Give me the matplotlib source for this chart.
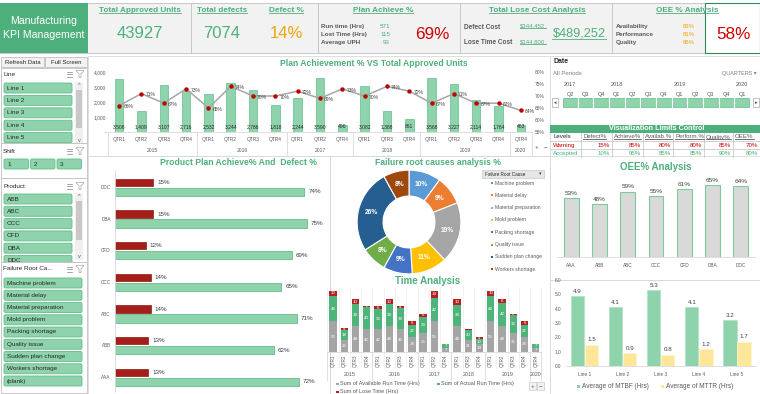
import numpy as np
import matplotlib.pyplot as plt
from matplotlib.patches import Rectangle, FancyBboxPatch, Polygon

plt.rcParams['font.family'] = ['Liberation Sans', 'DejaVu Sans']

# ── data ────────────────────────────────────────────────────────────────
quarter_labels = ['QTR1', 'QTR2', 'QTR3', 'QTR4', 'QTR1', 'QTR2', 'QTR3', 'QTR4',
                  'QTR1', 'QTR2', 'QTR4', 'QTR1', 'QTR3', 'QTR4',
                  'QTR1', 'QTR2', 'QTR3', 'QTR4', 'QTR4']
year_labels = ['2015', '2016', '2017', '2018', '2019', '2020']
year_counts = [4, 4, 3, 3, 4, 1]
approved_units = [3508, 1409, 3107, 2716, 2532, 3244, 2786, 1818, 2244, 3590, 496,
                  3082, 1388, 861, 3568, 3227, 2114, 1764, 463]
plan_achieve_pct = [66, 71, 67, 73, 65, 74, 70, 70, 72, 69, 73, 70, 74, 72, 67, 71, 67, 67, 64]

products = ['AAA', 'ABB', 'ABC', 'CCC', 'CFD', 'DBA', 'DDC']
product_defect_pct = [13, 13, 14, 14, 12, 15, 15]
product_achieve_pct = [72, 62, 71, 65, 69, 75, 74]
product_oee_pct = [53, 48, 59, 55, 61, 65, 64]

root_causes = ['Machine problem', 'Material delay', 'Material preparation', 'Mold problem',
               'Packing shortage', 'Quality issue', 'Sudden plan change', 'Workers shortage']
root_cause_pct = [10, 9, 19, 11, 9, 8, 26, 8]
root_cause_colors = ['#5B9BD5', '#ED7D31', '#A5A5A5', '#FFC000',
                     '#4472C4', '#70AD47', '#255E91', '#9E480E']

available_hrs = [56, 22, 48, 42, 42, 48, 42, 28, 35, 56, 7, 48, 21, 14, 56, 48, 35, 28, 7]
actual_hrs = [46, 18, 39, 40, 36, 39, 38, 22, 29, 42, 7, 38, 20, 10, 46, 42, 33, 22, 7]
lose_hrs = [10, 4, 10, 2, 6, 10, 4, 6, 6, 14, 0, 10, 1, 4, 10, 6, 2, 6, 0]

lines = ['Line 1', 'Line 2', 'Line 3', 'Line 4', 'Line 5']
mtbf_hrs = [4.9, 4.1, 5.3, 4.1, 3.2]
mttr_hrs = [1.5, 0.9, 0.8, 1.2, 1.7]

shifts = ['1', '2', '3']
slicer_products = ['ABB', 'ABC', 'CCC', 'CFD', 'DBA', 'DDC']
slicer_causes = root_causes + ['(blank)']

date_years = ['2017', '2018', '2019', '2020']
date_year_pos = [0, 3, 7, 11]
date_quarters = ['Q2', 'Q3', 'Q4', 'Q1', 'Q2', 'Q3', 'Q4', 'Q1', 'Q2', 'Q3', 'Q4', 'Q1']

limit_cols = ['Defect%', 'Achieve%', 'Availab.%', 'Perform.%', 'Quality%', 'OEE%']
warning_limits = ['15%', '85%', '80%', '80%', '85%', '70%']
accepted_limits = ['10%', '95%', '85%', '85%', '90%', '80%']

total_approved = 43927
total_defects = 7074
defect_pct = 14
run_time, lost_time, avg_uph = 571, 115, 93
plan_achieve = 69
defect_cost, lose_time_cost, total_lose_cost = 344452, 144800, 489252
availability, performance, quality = 83, 81, 86
oee_pct = 58

# ── colours ─────────────────────────────────────────────────────────────
GREEN = '#4DAF7C'
BAR_GREEN = '#8ED3AC'
EDGE_GREEN = '#62BE8C'
DARK_GREEN = '#4DB57A'
RED = '#D00000'
DARK_RED = '#A61E1A'
ORANGE = '#F0A30A'
GREY_TXT = '#595959'
FRAME = '#D9D9D9'

W, H = 760, 394
fig = plt.figure(figsize=(W / 100, H / 100), dpi=100)
fig.patch.set_facecolor('white')
base = fig.add_axes([0, 0, 1, 1])
base.set_xlim(0, W); base.set_ylim(H, 0); base.axis('off')

underlined = []


def px_axes(x, y, w, h):
    ax = fig.add_axes([x / W, 1 - (y + h) / H, w / W, h / H])
    ax.patch.set_alpha(0)
    return ax


def rect(x, y, w, h, fc='none', ec='none', lw=0.6, z=1):
    p = Rectangle((x, y), w, h, fc=fc, ec=ec, lw=lw, zorder=z)
    base.add_patch(p)
    return p


def label(x, y, s, size=4.6, color='#333333', ha='center', weight='normal', underline=False, **kw):
    t = base.text(x, y, s, fontsize=size, color=color, ha=ha, va='center', fontweight=weight, zorder=5, **kw)
    if underline:
        underlined.append(t)
    return t


def hline(x0, x1, y, color=FRAME, lw=0.6):
    base.plot([x0, x1], [y, y], color=color, lw=lw, zorder=2)


def vline(x, y0, y1, color=FRAME, lw=0.6):
    base.plot([x, x], [y0, y1], color=color, lw=lw, zorder=2)


def slicer_icons(xr, y):
    # multi-select icon + filter funnel
    for k in range(3):
        base.plot([xr - 19, xr - 14], [y - 2.5 + 2.5 * k, y - 2.5 + 2.5 * k], color='#7F7F7F', lw=0.5, zorder=6)
    base.add_patch(Polygon([[xr - 10, y - 3.5], [xr - 2, y - 3.5], [xr - 5, y], [xr - 5, y + 3.5],
                            [xr - 7, y + 3.5], [xr - 7, y]], closed=True, fc='none', ec='#A6A6A6', lw=0.5, zorder=6))


def button(x, y, w, h, s, clip=None):
    b = FancyBboxPatch((x, y), w, h, boxstyle='round,pad=0,rounding_size=1.5',
                       fc=BAR_GREEN, ec=EDGE_GREEN, lw=0.6, zorder=3)
    base.add_patch(b)
    t = base.text(x + 3, y + h / 2, s, fontsize=4.6, color='#262626', va='center', ha='left', zorder=4)
    if clip is not None:
        b.set_clip_path(clip); t.set_clip_path(clip)


def scrollbar(x, y0, y1, t0, t1):
    rect(x, y0, 8, y1 - y0, fc='#F0F0F0', z=3)
    rect(x + 1, t0, 6, t1 - t0, fc='#C8C8C8', z=4)
    label(x + 4, y0 + 3, '^', 4, '#595959')
    label(x + 4, y1 - 3, 'v', 4, '#595959')


# ── banner ──────────────────────────────────────────────────────────────
rect(0, 3, W, 50, fc='#F2F2F2', ec='#BFBFBF', lw=0.6, z=0)
rect(0, 3, 88, 50, fc=GREEN, z=1)
label(44, 21, 'Manufacturing', 7.6, 'white')
label(44, 35, 'KPI Management', 7.6, 'white')
for xs in [191, 318, 460, 612]:
    vline(xs, 3, 53, color='#BFBFBF')
rect(705, 3, 55, 50, fc='white', ec='#2E8B57', lw=0.8, z=2)

label(140, 10, 'Total Approved Units', 5.9, GREEN, weight='bold', underline=True)
label(140, 33, f'{total_approved}', 12, GREEN)
label(222, 10, 'Total defects', 5.9, GREEN, weight='bold', underline=True)
label(222, 33, f'{total_defects}', 12, GREEN)
label(286, 10, 'Defect %', 5.9, GREEN, weight='bold', underline=True)
label(286, 33, f'{defect_pct}%', 12, ORANGE)

label(383, 10, 'Plan Achieve %', 5.9, GREEN, weight='bold', underline=True)
for k, (n, v) in enumerate([('Run time (Hrs)', run_time), ('Lost Time (Hrs)', lost_time),
                            ('Average UPH', avg_uph)]):
    label(321, 26 + 8 * k, n, 4.5, GREY_TXT, ha='left', weight='bold')
    label(390, 26 + 8 * k, f'{v}', 4.5, GREEN, ha='right')
label(432, 34, f'{plan_achieve}%', 12.3, RED)

label(537, 10, 'Total Lose Cost Analysis', 5.9, GREEN, weight='bold', underline=True)
label(464, 27, 'Defect Cost', 4.7, GREY_TXT, ha='left', weight='bold')
label(464, 42, 'Lose Time Cost', 4.7, GREY_TXT, ha='left', weight='bold')
label(533, 26, f'${defect_cost:,}', 4.3, GREEN, underline=True)
label(533, 42, f'${lose_time_cost:,}', 4.3, GREEN, underline=True)
label(579, 33, f'${total_lose_cost:,}', 9.2, GREEN, underline=True)

label(687, 10, 'OEE % Analysis', 5.9, GREEN, weight='bold', underline=True)
for k, (n, v) in enumerate([('Availability', availability), ('Performance', performance),
                            ('Quality', quality)]):
    label(616, 26 + 8 * k, n, 4.5, GREY_TXT, ha='left', weight='bold')
    label(689, 26 + 8 * k, f'{v}%', 4.3, ORANGE)
label(733, 34, f'{oee_pct}%', 12.3, RED)

# ── left slicers ────────────────────────────────────────────────────────
rect(1, 57, 43, 10, fc='#F2F2F2', ec='#BFBFBF', z=2)
rect(45, 57, 42, 10, fc='#F2F2F2', ec='#BFBFBF', z=2)
label(22.5, 62, 'Refresh Data', 4.3, '#262626')
label(66, 62, 'Full Screen', 4.3, '#262626')

box = rect(1, 68, 86, 75, fc='white', ec='#BFBFBF', z=1)
label(3, 74, 'Line', 4.6, '#262626', ha='left')
slicer_icons(86, 74)
for i, s in enumerate(lines):
    button(4, 83 + 12.4 * i, 68, 10, s, clip=box)
scrollbar(75, 82, 143, 90, 128)

box = rect(1, 143, 86, 35, fc='white', ec='#BFBFBF', z=1)
label(3, 151, 'Shift', 4.6, '#262626', ha='left')
slicer_icons(86, 151)
for i, s in enumerate(shifts):
    button(4 + 26.5 * i, 159, 24.5, 10, s)

box = rect(1, 178, 86, 84, fc='white', ec='#BFBFBF', z=1)
label(3, 186, 'Product', 4.6, '#262626', ha='left')
slicer_icons(86, 186)
for i, s in enumerate(slicer_products):
    button(4, 194 + 12.3 * i, 68, 10, s, clip=box)
scrollbar(75, 193, 260, 201, 240)

box = rect(1, 262, 86, 131, fc='white', ec='#BFBFBF', z=1)
label(3, 269, 'Failure Root Ca...', 4.6, '#262626', ha='left')
slicer_icons(86, 269)
for i, s in enumerate(slicer_causes):
    button(4, 278 + 12.25 * i, 78, 10, s)

# ── frames ──────────────────────────────────────────────────────────────
rect(88, 56, 462, 100, ec=FRAME)
rect(88, 156, 242, 238, ec=FRAME)
rect(330, 156, 220, 238, ec=FRAME)
rect(550, 56, 210, 70, ec=FRAME)
rect(550, 156, 210, 124, ec=FRAME)
rect(550, 280, 210, 114, ec=FRAME)

# ── top chart: plan achievement vs approved units ──────────────────────
n = len(approved_units)
x = np.arange(n)
tl, tw = 108, 424
step_top = tw / n
ax1 = px_axes(tl, 72, tw, 60)
ax1.bar(x, approved_units, width=0.38, color=BAR_GREEN, edgecolor=EDGE_GREEN, lw=0.5)
ax1.set_xlim(-0.5, n - 0.5); ax1.set_ylim(0, 4000)
ax1.set_yticks([0, 1000, 2000, 3000, 4000])
ax1.set_yticklabels(['-', '1,000', '2,000', '3,000', '4,000'])
ax1.set_xticks([])
ax1.tick_params(axis='y', length=0, labelsize=3.5, labelcolor=GREY_TXT, pad=1.5)
for s in ax1.spines.values():
    s.set_visible(False)
for i, v in enumerate(approved_units):
    ax1.text(i, 360, f'{v:,}', ha='center', va='center', fontsize=3.6, color='#262626')
ax2 = ax1.twinx()
ax2.patch.set_alpha(0)
ax2.plot(x, plan_achieve_pct, color='#A6A6A6', lw=1.1, marker='o', ms=2.2, mfc='#C00000', mec='#C00000')
ax2.set_ylim(55, 80)
ax2.set_yticks([55, 60, 65, 70, 75, 80])
ax2.set_yticklabels([f'{t}%' for t in [55, 60, 65, 70, 75, 80]])
ax2.tick_params(axis='y', length=0, labelsize=3.5, labelcolor=GREY_TXT, pad=2)
for s in ax2.spines.values():
    s.set_visible(False)
for i, v in enumerate(plan_achieve_pct):
    ax2.annotate(f'{v}%', (i, v), xytext=(3, -1), textcoords='offset points',
                 fontsize=3.6, color='#404040', va='center', ha='left')
label(374, 63, 'Plan Achievement % VS Total Approved Units', 6.2, GREEN, weight='bold')

hline(tl, tl + tw, 132)
start = 0
for yl, c in zip(year_labels, year_counts):
    vline(tl + start * step_top, 132, 155)
    label(tl + (start + c / 2) * step_top, 150, yl, 3.6, GREY_TXT)
    start += c
vline(tl + tw, 132, 155)
for i, q in enumerate(quarter_labels):
    label(tl + (i + 0.5) * step_top, 139, q, 3.5, GREY_TXT)
label(537, 147, '+', 4.5, GREY_TXT); label(545, 147, '−', 4.5, GREY_TXT)

# ── date slicer + limits table ─────────────────────────────────────────
label(553, 61, 'Date', 5, '#262626', ha='left', weight='bold')
label(553, 73, 'All Periods', 4.3, '#7F7F7F', ha='left')
label(757, 73, 'QUARTERS ▾', 4, '#7F7F7F', ha='right')
qx = np.linspace(570, 742, len(date_quarters))
for yl, p in zip(date_years, date_year_pos):
    label(qx[p], 84, yl, 4, GREY_TXT)
for q, xq in zip(date_quarters, qx):
    label(xq, 94, q, 4, GREY_TXT)
rect(563, 98, 186, 9, fc=BAR_GREEN, ec=EDGE_GREEN, lw=0.5, z=2)
for xq in (qx[:-1] + qx[1:]) / 2:
    vline(xq, 98, 107, color='white', lw=0.8)
rect(552, 98, 6, 9, fc='white', ec='#A6A6A6', lw=0.5, z=2)
label(555, 102.5, '◂', 3.5, '#404040')
rect(753, 98, 6, 9, fc='white', ec='#A6A6A6', lw=0.5, z=2)
label(756, 102.5, '▸', 3.5, '#404040')

rect(550, 125, 210, 8, fc=GREEN, z=2)
label(657, 129, 'Visualization Limits Control', 5.2, 'white', weight='bold')
col_x = [581, 612, 643, 673, 704, 733, 760]
for xs in col_x[:-1]:
    vline(xs, 133, 157, color='#BFBFBF', lw=0.5)
hline(550, 760, 141, color='#BFBFBF', lw=0.5)
hline(550, 760, 149, color='#BFBFBF', lw=0.5)
label(553, 137, 'Levels', 4.4, '#262626', ha='left')
label(553, 145, 'Warning', 4.4, RED, ha='left')
label(553, 153, 'Accepted', 4.4, '#3CB371', ha='left')
for k in range(6):
    label(col_x[k] + 2, 137, limit_cols[k], 4.4, GREY_TXT, ha='left', underline=True)
    label(col_x[k + 1] - 2, 145, warning_limits[k], 4.4, RED, ha='right')
    label(col_x[k + 1] - 2, 153, accepted_limits[k], 4.4, '#3CB371', ha='right')

# ── product plan achieve % and defect % ────────────────────────────────
ax3 = px_axes(115, 170, 215, 222)
yp = np.arange(len(products))
ax3.barh(yp + 0.15, product_defect_pct, height=0.24, color=DARK_RED, edgecolor='#8B1A16', lw=0.5)
ax3.barh(yp - 0.15, product_achieve_pct, height=0.26, color=BAR_GREEN, edgecolor=EDGE_GREEN, lw=0.6)
for i in range(len(products)):
    ax3.text(product_defect_pct[i] + 1.5, i + 0.15, f'{product_defect_pct[i]}%', va='center',
             fontsize=4.5, color='#404040')
    ax3.text(product_achieve_pct[i] + 1.5, i - 0.15, f'{product_achieve_pct[i]}%', va='center',
             fontsize=4.5, color='#404040')
ax3.set_xlim(0, 84); ax3.set_ylim(-0.47, 6.54)
ax3.set_yticks(yp); ax3.set_yticklabels(products)
ax3.set_xticks([])
ax3.tick_params(axis='y', length=0, labelsize=3.3, labelcolor=GREY_TXT, pad=3)
for s in ['top', 'right', 'bottom']:
    ax3.spines[s].set_visible(False)
ax3.spines['left'].set_color(FRAME); ax3.spines['left'].set_linewidth(0.6)
label(238, 162, 'Product Plan Achieve% And  Defect %', 6.2, GREEN, weight='bold')

# ── failure root causes donut ──────────────────────────────────────────
ax4 = px_axes(354, 167, 110, 110)
ax4.pie(root_cause_pct, colors=root_cause_colors, startangle=90, counterclock=False,
        radius=1, wedgeprops=dict(width=0.5, edgecolor='white', linewidth=0.8))
ang = 90
for v in root_cause_pct:
    mid = np.deg2rad(ang - v * 3.6 / 2)
    ax4.text(0.75 * np.cos(mid), 0.75 * np.sin(mid), f'{v}%', ha='center', va='center',
             fontsize=4.8, color='white', fontweight='bold')
    ang -= v * 3.6
ax4.set_xlim(-1.06, 1.06); ax4.set_ylim(-1.06, 1.06)
ax4.set_aspect('equal'); ax4.axis('off')
label(438, 162, 'Failure root causes analysis %', 6.2, GREEN, weight='bold')
rect(482, 170, 62, 8, fc='#E7E6E6', ec='#BFBFBF', lw=0.4, z=2)
label(485, 174, 'Failure Root Cause', 3.3, '#262626', ha='left')
label(540, 174, '▾', 3.5, '#404040')
for k, (c, col) in enumerate(zip(root_causes, root_cause_colors)):
    yy = 183 + 12.3 * k
    rect(490.5, yy - 1, 2, 2, fc=col, z=3)
    label(495, yy, c, 3.6, GREY_TXT, ha='left')

# ── time analysis ──────────────────────────────────────────────────────
ta_l, ta_w = 327.4, 214
step_ta = ta_w / n
ax5 = px_axes(ta_l, 289, ta_w, 63)
lose_bottom = np.array(available_hrs) + np.array(actual_hrs)
ax5.bar(x, available_hrs, width=0.65, color='#A5A5A5')
ax5.bar(x, actual_hrs, width=0.65, bottom=available_hrs, color=DARK_GREEN)
ax5.bar(x, lose_hrs, width=0.65, bottom=lose_bottom, color='#B22222')
for i in range(n):
    ax5.text(i, available_hrs[i] / 2, f'{available_hrs[i]}', ha='center', va='center', fontsize=3.2, color='white')
    ax5.text(i, available_hrs[i] + actual_hrs[i] / 2, f'{actual_hrs[i]}', ha='center', va='center',
             fontsize=3.2, color='white')
    if lose_hrs[i] > 0:
        ax5.text(i, lose_bottom[i] + max(lose_hrs[i], 4) / 2, f'{lose_hrs[i]}', ha='center', va='center',
                 fontsize=3.2, color='white')
ax5.set_xlim(-0.5, n - 0.5); ax5.set_ylim(0, 115)
ax5.axis('off')
label(428, 281, 'Time Analysis', 7, GREEN, weight='bold')
for i in range(n + 1):
    vline(ta_l + i * step_ta, 287, 368, color='#EDEDED', lw=0.5)
hline(ta_l, ta_l + ta_w, 352)
for i, q in enumerate(quarter_labels):
    label(ta_l + (i + 0.5) * step_ta, 361, q, 3.3, GREY_TXT, rotation=90)
start = 0
for yl, c in zip(year_labels, year_counts):
    vline(ta_l + start * step_ta, 352, 380)
    label(ta_l + (start + c / 2) * step_ta, 375, yl, 3.8, GREY_TXT)
    start += c
vline(ta_l + ta_w, 352, 380)
rect(336, 382.5, 2.5, 2.5, fc='#A5A5A5', z=3)
label(340, 384, 'Sum of Available Run Time (Hrs)', 4, GREY_TXT, ha='left')
rect(437, 382.5, 2.5, 2.5, fc=DARK_GREEN, z=3)
label(441, 384, 'Sum of Actual Run Time (Hrs)', 4, GREY_TXT, ha='left')
rect(336, 390.5, 2.5, 2.5, fc='#B22222', z=3)
label(340, 392, 'Sum of Lose Time (Hrs)', 4, GREY_TXT, ha='left')
rect(529, 382, 7, 8, fc='#F2F2F2', ec='#BFBFBF', lw=0.4, z=3)
label(532.5, 386, '+', 4.5, GREY_TXT)
rect(537, 382, 7, 8, fc='#F2F2F2', ec='#BFBFBF', lw=0.4, z=3)
label(540.5, 386, '−', 4.5, GREY_TXT)

# ── OEE % by product ───────────────────────────────────────────────────
ax6 = px_axes(557, 180, 198, 77)
ax6.bar(np.arange(len(products)), product_oee_pct, width=0.53, color='#D9D9D9', edgecolor='#7CCB9C', lw=0.8)
for i, v in enumerate(product_oee_pct):
    ax6.text(i, v + 2, f'{v}%', ha='center', va='bottom', fontsize=4.6, color='#404040')
ax6.set_xlim(-0.5, len(products) - 0.5); ax6.set_ylim(0, 69.5)
ax6.set_xticks(np.arange(len(products))); ax6.set_xticklabels(products)
ax6.set_yticks([])
ax6.tick_params(axis='x', length=0, labelsize=3.4, labelcolor=GREY_TXT, pad=4)
for s in ['top', 'right', 'left']:
    ax6.spines[s].set_visible(False)
ax6.spines['bottom'].set_color(FRAME); ax6.spines['bottom'].set_linewidth(0.6)
label(656, 167, 'OEE% Analysis', 7, GREEN, weight='bold')

# ── MTBF / MTTR by line ────────────────────────────────────────────────
ax7 = px_axes(565.5, 280, 190.5, 86)
xl = np.arange(len(lines))
ax7.bar(xl - 0.185, mtbf_hrs, width=0.35, color=BAR_GREEN, edgecolor='#B5E3C8', lw=0.6)
ax7.bar(xl + 0.185, mttr_hrs, width=0.35, color='#FFE699', edgecolor='#FFF2CC', lw=0.6)
for i in range(len(lines)):
    ax7.text(i - 0.185, mtbf_hrs[i] + 0.15, f'{mtbf_hrs[i]:.1f}', ha='center', va='bottom', fontsize=4.5, color='#404040')
    ax7.text(i + 0.185, mttr_hrs[i] + 0.15, f'{mttr_hrs[i]:.1f}', ha='center', va='bottom', fontsize=4.5, color='#404040')
ax7.set_xlim(-0.5, len(lines) - 0.5); ax7.set_ylim(0, 6)
ax7.set_xticks(xl); ax7.set_xticklabels(lines)
ax7.set_yticks(np.arange(0, 7)); ax7.set_yticklabels([f'{t:.1f}' for t in range(7)])
ax7.tick_params(length=0, labelsize=3.4, labelcolor=GREY_TXT)
ax7.tick_params(axis='x', pad=4)
ax7.tick_params(axis='y', pad=3)
for s in ['top', 'right', 'left']:
    ax7.spines[s].set_visible(False)
ax7.spines['bottom'].set_color(FRAME); ax7.spines['bottom'].set_linewidth(0.6)
rect(577, 384.5, 3, 3, fc=BAR_GREEN, z=3)
label(582, 386, 'Average of MTBF (Hrs)', 4.7, GREY_TXT, ha='left')
rect(661, 384.5, 3, 3, fc='#FFE699', z=3)
label(666, 386, 'Average of MTTR (Hrs)', 4.7, GREY_TXT, ha='left')

# ── underlines ─────────────────────────────────────────────────────────
fig.canvas.draw()
renderer = fig.canvas.get_renderer()
inv = base.transData.inverted()
for t in underlined:
    bb = t.get_window_extent(renderer)
    (x0, y0), (x1, y1) = inv.transform([[bb.x0, bb.y0], [bb.x1, bb.y1]])
    base.plot([x0, x1], [max(y0, y1) - 0.3] * 2, color=t.get_color(), lw=0.6, zorder=5)

fig.savefig('out.png', dpi=100)
